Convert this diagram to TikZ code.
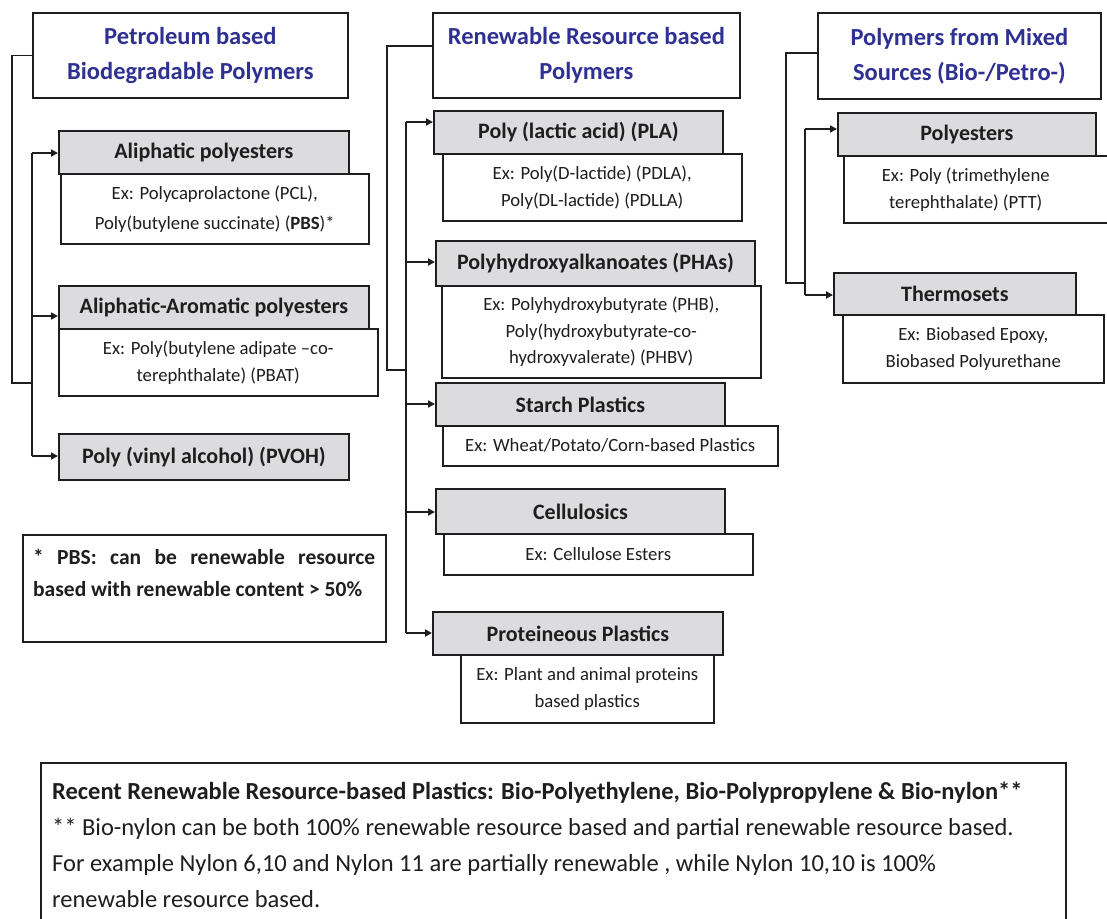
\documentclass[tikz,border=0pt]{standalone}
\usepackage{fontspec}
\setmainfont{Carlito}
\usetikzlibrary{arrows.meta,calc}
\definecolor{titleblue}{RGB}{46,49,146}
\definecolor{boxgray}{RGB}{220,220,222}
\definecolor{ink}{RGB}{30,30,30}
\begin{document}
\begin{tikzpicture}[x=1pt,y=-1pt,
 tbox/.style={draw=ink, line width=1.8pt, fill=white, text=titleblue, align=center, anchor=north west, inner sep=0pt, font=\fontsize{24.5}{35}\selectfont\bfseries},
 gbox/.style={draw=ink, line width=1.8pt, fill=boxgray, text=ink, align=center, anchor=north west, inner sep=0pt, font=\fontsize{22}{24}\selectfont\bfseries},
 ebox/.style={draw=ink, line width=1.5pt, fill=white, text=ink, align=center, anchor=north west, inner sep=0pt, font=\fontsize{18.7}{27}\selectfont},
 frame/.style={draw=ink, line width=1.8pt, fill=white, anchor=north west, inner sep=0pt},
 conn/.style={draw=ink, line width=1.8pt},
 arr/.style={conn, -{Triangle[length=7pt,width=7pt]}},
]
\useasboundingbox (0,0) rectangle (1107,918);
\clip (0,0) rectangle (1107,918);
\fill[white] (0,0) rectangle (1107,918);

% ---- titles
\node[tbox, minimum width=315pt, minimum height=85pt] (t1) at (32,12) {Petroleum based\\Biodegradable Polymers};
\node[tbox, minimum width=307pt, minimum height=85pt] (t2) at (432,12) {Renewable Resource based\\Polymers};
\node[tbox, minimum width=283pt, minimum height=86pt] (t3) at (817,12) {Polymers from Mixed\\Sources (Bio-/Petro-)};

% ---- column 1
\node[gbox, minimum width=290pt, minimum height=43pt] (ap) at (58,130) {Aliphatic polyesters};
\node[ebox, minimum width=308pt, minimum height=70pt, font=\fontsize{18.7}{30}\selectfont] (ape) at (60,173) {Ex: Polycaprolactone (PCL),\\Poly(butylene succinate) (\textbf{PBS})*};
\node[gbox, minimum width=310pt, minimum height=43pt] (aa) at (58,285) {Aliphatic-Aromatic polyesters};
\node[ebox, minimum width=319pt, minimum height=67pt] (aae) at (58,328) {Ex: Poly(butylene adipate –co-\\terephthalate) (PBAT)};
\node[gbox, minimum width=290pt, minimum height=46pt] (pv) at (58,433) {Poly (vinyl alcohol) (PVOH)};
\node[frame, minimum width=363pt, minimum height=107pt] (note) at (22,534) {};
\node[anchor=north west, inner sep=0pt, text width=342pt, align=justify, text=ink,
      font=\fontsize{21.5}{32}\selectfont\bfseries] (notetxt) at ([shift={(11,15)}]note.north west)
      {* PBS: can be renewable resource\linebreak based with renewable content > 50\%};

% ---- column 2
\node[gbox, minimum width=289pt, minimum height=43pt] (pla) at (433,110) {Poly (lactic acid) (PLA)};
\node[ebox, minimum width=299pt, minimum height=67pt] (plae) at (442,153) {Ex: Poly(D-lactide) (PDLA),\\Poly(DL-lactide) (PDLLA)};
\node[gbox, minimum width=319pt, minimum height=45pt] (pha) at (435,240) {Polyhydroxyalkanoates (PHAs)};
\node[ebox, minimum width=319pt, minimum height=92pt, font=\fontsize{18.7}{26.5}\selectfont] (phae) at (441,285) {Ex: Polyhydroxybutyrate (PHB),\\Poly(hydroxybutyrate-co-\\hydroxyvalerate) (PHBV)};
\node[gbox, minimum width=289pt, minimum height=43pt] (st) at (435,382) {Starch Plastics};
\node[ebox, minimum width=335pt, minimum height=40pt] (ste) at (442,425) {Ex: Wheat/Potato/Corn-based Plastics};
\node[gbox, minimum width=289pt, minimum height=45pt] (ce) at (435,488) {Cellulosics};
\node[ebox, minimum width=309pt, minimum height=41pt] (cee) at (443,533) {Ex: Cellulose Esters};
\node[gbox, minimum width=290pt, minimum height=43pt] (pr) at (432,611) {Proteineous Plastics};
\node[ebox, minimum width=253pt, minimum height=68pt] (pre) at (460,654) {Ex: Plant and animal proteins\\based plastics};

% ---- column 3
\node[gbox, minimum width=258pt, minimum height=43pt] (po) at (837,112) {Polyesters};
\node[ebox, minimum width=266pt, minimum height=67pt] (poe) at (843,155) {Ex: Poly (trimethylene\hspace*{22pt}\\terephthalate) (PTT)\hspace*{22pt}};
\node[gbox, minimum width=242pt, minimum height=42pt] (th) at (833,272) {Thermosets};
\node[ebox, minimum width=261pt, minimum height=68pt] (the) at (842,314) {Ex: Biobased Epoxy,\\Biobased Polyurethane};

% ---- bottom box
\node[frame, minimum width=1025pt, minimum height=185pt] (bot) at (40,762) {};
\node[anchor=north west, inner sep=0pt, align=left, text=ink, font=\fontsize{24.5}{36}\selectfont] (bottxt) at ([shift={(12,20)}]bot.north west)
 {\textbf{Recent Renewable Resource-based Plastics: Bio-Polyethylene, Bio-Polypropylene \& Bio-nylon**}\\
  ** Bio-nylon can be both 100\% renewable resource based and partial renewable resource based.\\
  For example Nylon 6,10 and Nylon 11 are partially renewable , while Nylon 10,10 is 100\%\\
  renewable resource based.};

% ---- connectors column 1
\coordinate (o1) at (12,383);
\coordinate (a1) at (32,153);
\coordinate (a2) at (32,316);
\coordinate (a3) at (32,456);
\coordinate (m1) at (32,383);
\draw[conn] (t1.west) -| (o1) -- (m1);
\draw[conn] (a1) -- (a3);
\draw[arr] (a1) -- (a1 -| ap.west);
\draw[arr] (a2) -- (a2 -| aa.west);
\draw[arr] (a3) -- (a3 -| pv.west);

% ---- connectors column 2
\coordinate (o2) at (387,370);
\coordinate (m2) at (406,370);
\coordinate (b1) at (406,122);
\coordinate (b2) at (406,262);
\coordinate (b3) at (406,404);
\coordinate (b4) at (406,512);
\coordinate (b5) at (406,633);
\draw[conn] ([yshift=9.5pt]t2.west) -| (o2) -- (m2);
\draw[conn] (b1) -- (b5);
\draw[arr] (b1) -- (b1 -| pla.west);
\draw[arr] (b2) -- (b2 -| pha.west);
\draw[arr] (b3) -- (b3 -| st.west);
\draw[arr] (b4) -- (b4 -| ce.west);
\draw[arr] (b5) -- (b5 -| pr.west);

% ---- connectors column 3
\coordinate (o3) at (786,283);
\coordinate (m3) at (805,283);
\coordinate (c1) at (805,129);
\coordinate (c2) at (805,295);
\draw[conn] ([yshift=3pt]t3.west) -| (o3) -- (m3);
\draw[conn] (c1) -- (c2);
\draw[arr] (c1) -- (c1 -| po.west);
\draw[arr] (c2) -- (c2 -| th.west);
\end{tikzpicture}
\end{document}
